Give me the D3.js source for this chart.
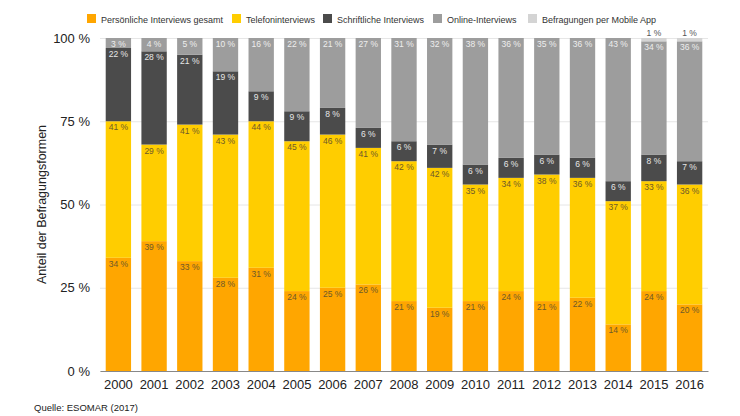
<!DOCTYPE html>
<html>
<head>
<meta charset="utf-8">
<script src="https://cdn.jsdelivr.net/npm/d3@7"></script>
<style>
  body { margin: 0; background: #fff; }
  svg { font-family: "Liberation Sans", Arial, Helvetica, sans-serif; }
</style>
</head>
<body>
<div id="chart"></div>
<script>
const years = ["2000", "2001", "2002", "2003", "2004", "2005", "2006", "2007", "2008",
  "2009", "2010", "2011", "2012", "2013", "2014", "2015", "2016"];

const fields = [
  "Persönliche Interviews gesamt",
  "Telefoninterviews",
  "Schriftliche Interviews",
  "Online-Interviews",
  "Befragungen per Mobile App",
];

const persoenlich = [34, 39, 33, 28, 31, 24, 25, 26, 21, 19, 21, 24, 21, 22, 14, 24, 20];
const telefon = [41, 29, 41, 43, 44, 45, 46, 41, 42, 42, 35, 34, 38, 36, 37, 33, 36];
const schriftlich = [22, 28, 21, 19, 9, 9, 8, 6, 6, 7, 6, 6, 6, 6, 6, 8, 7];
const online = [3, 4, 5, 10, 16, 22, 21, 27, 31, 32, 38, 36, 35, 36, 43, 34, 36];
const mobile = [0, 0, 0, 0, 0, 0, 0, 0, 0, 0, 0, 0, 0, 0, 0, 1, 1];

const yTicks = [0, 25, 50, 75, 100];

const colors = ["#ffa600", "#ffcd00", "#4b4b4b", "#9d9d9d", "#d4d4d4"];
const labelColors = ["#6e5a2a", "#6e5a2a", "#e6e6e6", "#ededed", "#555555"];

const series = [persoenlich, telefon, schriftlich, online, mobile];
const dataset = years.map((year, i) => {
  const row = { year: year };
  fields.forEach((f, k) => { row[f] = series[k][i]; });
  return row;
});

const width = 740, height = 416;
const margin = { top: 38, right: 32, bottom: 45, left: 100 };

const svg = d3.select("#chart").append("svg")
  .attr("width", width)
  .attr("height", height);

const xScale = d3.scaleBand()
  .domain(years)
  .range([margin.left, width - margin.right])
  .paddingInner(0.29)
  .paddingOuter(0.16);

const yScale = d3.scaleLinear()
  .domain([0, 100])
  .range([height - margin.bottom, margin.top]);

const colorScale = d3.scaleOrdinal().domain(fields).range(colors);
const labelScale = d3.scaleOrdinal().domain(fields).range(labelColors);

// gridlines + y labels
const yAxis = d3.axisLeft(yScale)
  .tickValues(yTicks)
  .tickSize(-(width - margin.left - margin.right))
  .tickPadding(10)
  .tickFormat((d) => d + " %");

const yAxisGroup = svg.append("g")
  .attr("transform", `translate(${margin.left}, 0)`)
  .call(yAxis);
yAxisGroup.select(".domain").remove();
yAxisGroup.selectAll(".tick line").attr("stroke", "#e6e6e6");
yAxisGroup.selectAll(".tick text")
  .attr("font-size", "13px")
  .attr("fill", "#222");

// stacked bars
const stackedData = d3.stack().keys(fields)(dataset);

const layers = svg.append("g")
  .attr("class", "stackedbar")
  .selectAll("g")
  .data(stackedData)
  .enter()
  .append("g")
  .attr("fill", (d) => colorScale(d.key));

layers.selectAll("rect")
  .data((d) => d)
  .enter()
  .append("rect")
  .attr("x", (d) => xScale(d.data.year))
  .attr("y", (d) => yScale(d[1]))
  .attr("width", xScale.bandwidth())
  .attr("height", (d) => yScale(d[0]) - yScale(d[1]));

// value labels
stackedData.forEach((layer) => {
  svg.append("g")
    .selectAll("text")
    .data(layer.filter((d) => d[1] - d[0] > 0))
    .enter()
    .append("text")
    .attr("x", (d) => xScale(d.data.year) + xScale.bandwidth() / 2)
    .attr("y", (d) => {
      if (d[1] - d[0] < 2) return yScale(d[1]) - 2;
      return yScale(d[1]) + 9;
    })
    .attr("text-anchor", "middle")
    .attr("font-size", "8.5px")
    .attr("fill", labelScale(layer.key))
    .text((d) => (d[1] - d[0]) + " %");
});

// baseline + x labels
const xAxis = d3.axisBottom(xScale).tickSize(0).tickPadding(9);
const xAxisGroup = svg.append("g")
  .attr("transform", `translate(0, ${yScale(0)})`)
  .call(xAxis);
xAxisGroup.select(".domain").attr("stroke", "#888").attr("stroke-width", 1);
xAxisGroup.selectAll(".tick text")
  .attr("font-size", "13px")
  .attr("fill", "#222");

// y axis title
svg.append("text")
  .attr("transform", `translate(46, ${(yScale(0) + yScale(100)) / 2}) rotate(-90)`)
  .attr("text-anchor", "middle")
  .attr("font-size", "12.5px")
  .attr("fill", "#222")
  .text("Anteil der Befragungsformen");

// legend
const legendX = [87, 232, 323, 433, 528];
const legend = svg.selectAll(".legend")
  .data(fields)
  .enter()
  .append("g")
  .attr("class", "legend")
  .attr("transform", (d, i) => `translate(${legendX[i]}, 14)`);

legend.append("rect")
  .attr("width", 9)
  .attr("height", 9)
  .attr("y", 0)
  .style("fill", colorScale);

legend.append("text")
  .attr("x", 14)
  .attr("y", 8.5)
  .attr("font-size", "9px")
  .attr("fill", "#333")
  .text((d) => d);

// source
svg.append("text")
  .attr("x", 34)
  .attr("y", 411)
  .attr("font-size", "9.5px")
  .attr("fill", "#222")
  .text("Quelle: ESOMAR (2017)");
</script>
</body>
</html>
